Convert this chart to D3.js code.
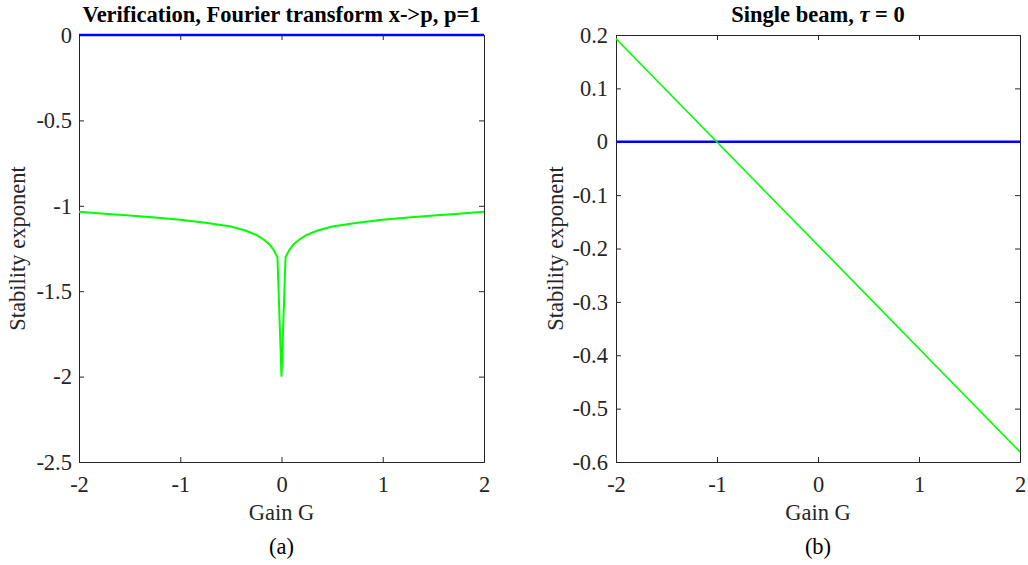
<!DOCTYPE html>
<html>
<head>
<meta charset="utf-8">
<script src="https://cdn.jsdelivr.net/npm/d3@7"></script>
<style>
  html, body { margin: 0; padding: 0; background: #fff; }
  svg { display: block; }
  svg text { font-family: "Liberation Serif", "Times New Roman", serif; }
</style>
</head>
<body>
<svg id="fig" width="1028" height="565"></svg>
<script>
// Panel (a): stability exponent vs gain, Fourier transform x->p, p = 1
const gainA = [-2, -1.75, -1.5, -1.25, -1, -0.75, -0.5, -0.35, -0.25, -0.18, -0.12, -0.08, -0.04, 0,
               0.04, 0.08, 0.12, 0.18, 0.25, 0.35, 0.5, 0.75, 1, 1.25, 1.5, 1.75, 2];
const expA  = [-1.035, -1.046, -1.057, -1.069, -1.082, -1.099, -1.121, -1.146, -1.170, -1.196, -1.225, -1.256, -1.300, -2.0,
               -1.300, -1.256, -1.225, -1.196, -1.170, -1.146, -1.121, -1.099, -1.082, -1.069, -1.057, -1.046, -1.035];
const gainA0 = [-2, 2];
const expA0  = [0, 0];
const yTicksA = [0, -0.5, -1, -1.5, -2, -2.5];

// Panel (b): single beam, tau = 0
const gainB = [-2, 2];
const expB  = [0.193, -0.581];
const gainB0 = [-2, 2];
const expB0  = [0, 0];
const yTicksB = [0.2, 0.1, 0, -0.1, -0.2, -0.3, -0.4, -0.5, -0.6];

const xTicks = [-2, -1, 0, 1, 2];

const FONT = '"Liberation Serif", "Times New Roman", serif';
const FS = 22.5;
const svg = d3.select("#fig");
const axisColor = "#262626";
const fmt = d => (d < 0 ? "-" : "") + Math.abs(d).toString();

function panel(opt) {
  const x = d3.scaleLinear().domain([-2, 2]).range([opt.left, opt.right]);
  const y = d3.scaleLinear().domain(opt.yDomain).range([opt.bottom, opt.top]);
  const g = svg.append("g");
  const tl = 5;

  // box with inward ticks on all four sides
  const axB = g.append("g").attr("transform", `translate(0,${opt.bottom})`)
    .call(d3.axisBottom(x).tickValues(xTicks).tickSize(-tl).tickPadding(14).tickFormat(fmt));
  const axT = g.append("g").attr("transform", `translate(0,${opt.top})`)
    .call(d3.axisTop(x).tickValues(xTicks).tickSize(-tl).tickFormat(""));
  const axL = g.append("g").attr("transform", `translate(${opt.left},0)`)
    .call(d3.axisLeft(y).tickValues(opt.yTicks).tickSize(-tl).tickPadding(opt.yPad).tickFormat(fmt));
  const axR = g.append("g").attr("transform", `translate(${opt.right},0)`)
    .call(d3.axisRight(y).tickValues(opt.yTicks).tickSize(-tl).tickFormat(""));
  [axB, axT, axL, axR].forEach(a => {
    a.attr("font-size", FS);
    a.select(".domain").attr("stroke", axisColor).attr("stroke-width", 1);
    a.selectAll(".tick line").attr("stroke", axisColor);
    a.selectAll("text").attr("fill", axisColor).style("font-family", FONT);
  });

  const line = d3.line().x(d => x(d[0])).y(d => y(d[1]));

  // blue reference curve, then the green curve
  g.append("path").datum(opt.g0.map((v, i) => [v, opt.e0[i]]))
    .attr("d", line).attr("fill", "none").attr("stroke", "#0000ff").attr("stroke-width", 2.6);
  g.append("path").datum(opt.g1.map((v, i) => [v, opt.e1[i]]))
    .attr("d", line).attr("fill", "none").attr("stroke", "#00ff00").attr("stroke-width", opt.w1);

  const cx = (opt.left + opt.right) / 2;
  const txt = (xx, yy, size) => g.append("text").attr("x", xx).attr("y", yy)
    .attr("text-anchor", "middle").attr("font-size", size).attr("fill", "#000")
    .style("font-family", FONT);
  txt(cx, 22, FS).attr("font-weight", "bold").html(opt.title);
  txt(cx, 520, FS).attr("fill", axisColor).text("Gain G");
  txt(cx, 554, FS).text(opt.tag);
  g.append("text")
    .attr("transform", `translate(${opt.yLabelX},${(opt.top + opt.bottom) / 2}) rotate(-90)`)
    .attr("text-anchor", "middle").attr("font-size", FS).attr("fill", axisColor)
    .style("font-family", FONT)
    .text("Stability exponent");
}

panel({
  left: 79, right: 484, top: 35, bottom: 462,
  yDomain: [-2.5, 0], yTicks: yTicksA, yPad: 7,
  g0: gainA0, e0: expA0, g1: gainA, e1: expA, w1: 2,
  title: "Verification, Fourier transform x-&gt;p, p=1",
  tag: "(a)", yLabelX: 25
});

panel({
  left: 616, right: 1020, top: 35, bottom: 462,
  yDomain: [-0.6, 0.2], yTicks: yTicksB, yPad: 8,
  g0: gainB0, e0: expB0, g1: gainB, e1: expB, w1: 1.6,
  title: 'Single beam, <tspan font-style="italic">τ</tspan> = 0',
  tag: "(b)", yLabelX: 563
});
</script>
</body>
</html>
